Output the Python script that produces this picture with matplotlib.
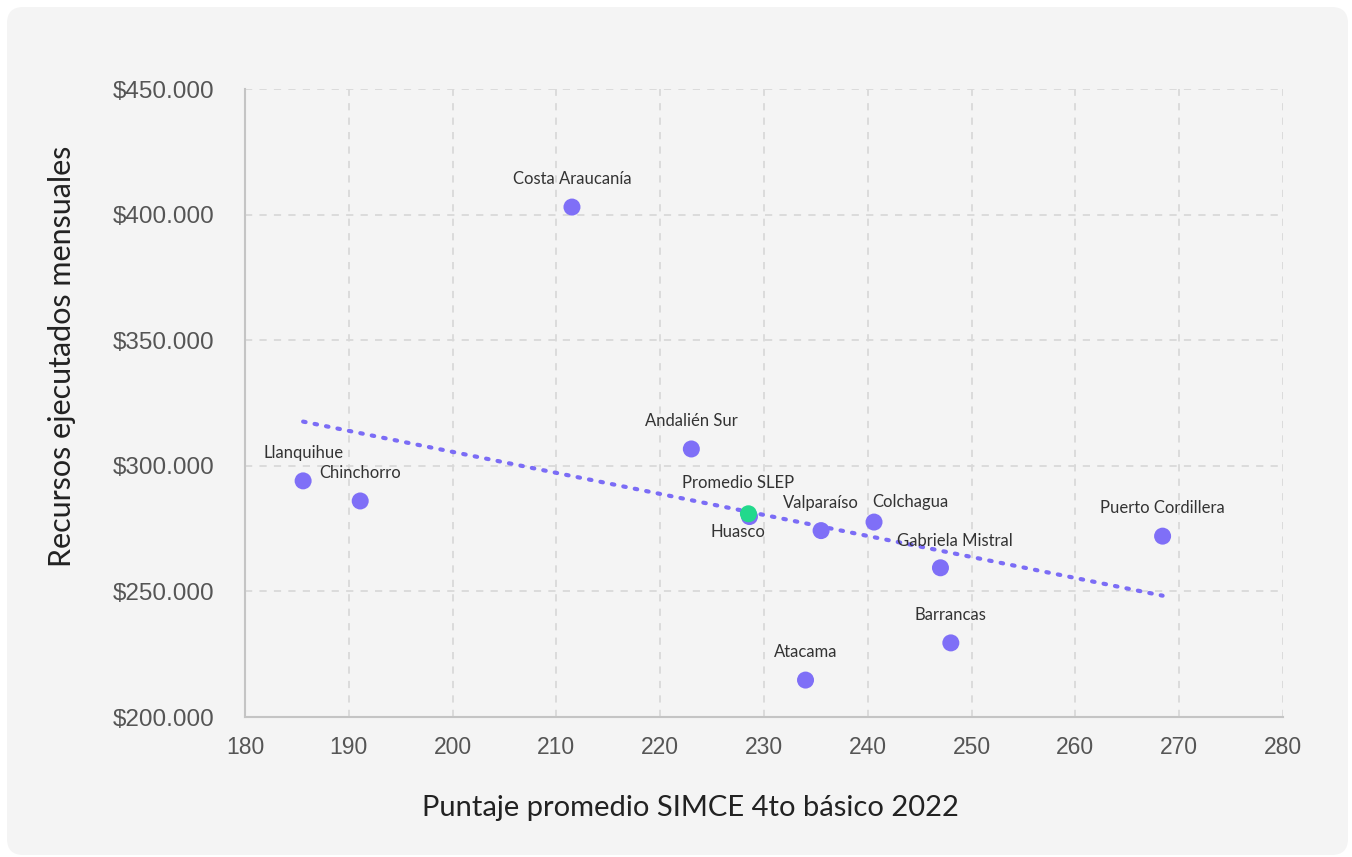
import matplotlib
matplotlib.use("Agg")
import matplotlib.pyplot as plt
from matplotlib.patches import FancyBboxPatch
import numpy as np

names = ["Llanquihue", "Chinchorro", "Costa Araucanía", "Andalién Sur", "Huasco",
         "Valparaíso", "Colchagua", "Gabriela Mistral", "Barrancas", "Atacama",
         "Puerto Cordillera"]
simce = [185.6, 191.1, 211.5, 223.0, 228.6, 235.5, 240.6, 247.0, 248.0, 234.0, 268.4]
recursos = [294000, 286000, 403000, 306700, 279800, 274200, 277600, 259400, 229500, 214700, 272000]

prom_name = "Promedio SLEP"
prom_x = 228.5
prom_y = 280900

trend_x = [185.6, 268.4]
trend_y = [317600, 248300]

# label offsets in pixels (dx, dy)
offsets = {
    "Llanquihue": (0, 28), "Chinchorro": (0, 28), "Costa Araucanía": (0, 28),
    "Andalién Sur": (0, 28), "Huasco": (-12, -15), "Valparaíso": (0, 28),
    "Colchagua": (36, 20), "Gabriela Mistral": (14, 27), "Barrancas": (0, 28),
    "Atacama": (0, 28), "Puerto Cordillera": (0, 28),
}

W, H = 1352, 857
fig = plt.figure(figsize=(W / 100, H / 100), dpi=100)
fig.patch.set_facecolor("white")
panel = FancyBboxPatch((7 / W, 2 / H), (1348 - 7) / W, (850 - 2) / H,
                       boxstyle="round,pad=0,rounding_size=0.012",
                       transform=fig.transFigure, facecolor="#f4f4f4", edgecolor="none",
                       mutation_aspect=W / H, zorder=-10)
fig.patches.append(panel)

ax = fig.add_axes([245 / W, 1 - 717 / H, (1283 - 245) / W, (717 - 89) / H])
ax.set_facecolor("none")
ax.set_xlim(180, 280)
ax.set_ylim(200000, 450000)
ax.set_xticks(np.arange(180, 281, 10))
ax.set_yticks(np.arange(200000, 450001, 50000))
ax.set_yticklabels(["$" + f"{v:,}".replace(",", ".") for v in range(200000, 450001, 50000)])

ax.grid(True, color="#d9d9d9", linestyle=(0, (4, 4)), linewidth=1.3, zorder=0)
for s in ["top", "right"]:
    ax.spines[s].set_visible(False)
for s in ["left", "bottom"]:
    ax.spines[s].set_color("#c4c4c4")
    ax.spines[s].set_linewidth(1.5)
ax.tick_params(length=0, labelcolor="#555555")
ax.tick_params(axis="y", pad=22, labelsize=17.5)
ax.tick_params(axis="x", pad=14, labelsize=16.5)
for lab in ax.get_xticklabels() + ax.get_yticklabels():
    lab.set_family("Liberation Sans")

ax.plot(trend_x, trend_y, linestyle=(0, (0.6, 2.2)), color="#7b6cf6", linewidth=3,
        dash_capstyle="round", zorder=2)

ax.scatter(simce, recursos, s=150, color="#7f6ff7", edgecolor="none", zorder=3)
ax.scatter([prom_x], [prom_y], s=150, color="#22d98c", edgecolor="none", zorder=4)

for n, x, y in zip(names, simce, recursos):
    dx, dy = offsets[n]
    ax.annotate(n, (x, y), xytext=(dx, dy), textcoords="offset pixels",
                ha="center", va="center", fontsize=12, color="#333333",
                family="Lato")
ax.annotate(prom_name, (prom_x, prom_y), xytext=(-10, 31), textcoords="offset pixels",
            ha="center", va="center", fontsize=12, color="#333333", family="Lato")

fig.text(690 / W, 1 - 808 / H, "Puntaje promedio SIMCE 4to básico 2022",
         ha="center", va="center", fontsize=21, color="#222222", family="Lato")
fig.text(62 / W, 1 - 356 / H, "Recursos ejecutados mensuales", rotation=90,
         ha="center", va="center", fontsize=22, color="#222222", family="Lato")

fig.savefig("out.png", dpi=100, facecolor=fig.get_facecolor())
